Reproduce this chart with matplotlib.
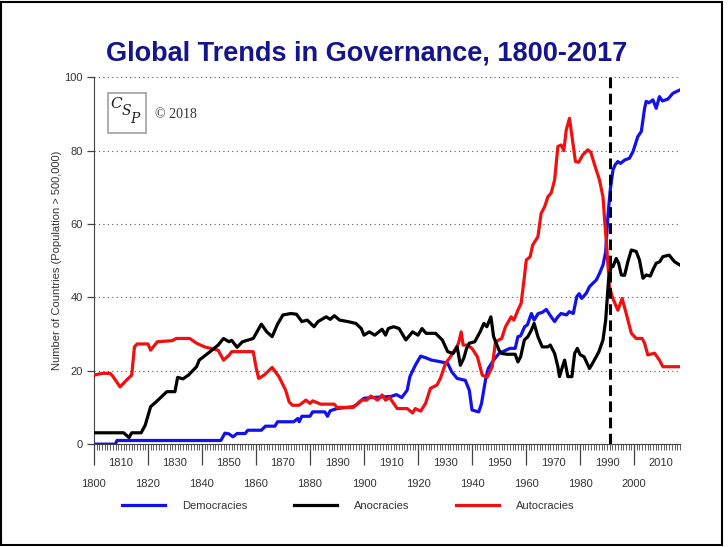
import matplotlib
matplotlib.use('Agg')
import matplotlib.pyplot as plt
from matplotlib.patches import Rectangle
from matplotlib.ticker import MultipleLocator, FuncFormatter

plt.rcParams['font.family'] = ['Liberation Sans', 'DejaVu Sans']

# values (year, number of countries)
dem_years = [1800, 1808, 1808.5, 1847, 1848.5, 1850, 1851.5, 1853, 1856, 1857, 1862, 1863.5,
             1867, 1868, 1874, 1875.5, 1876, 1877, 1880, 1881, 1885.5, 1886.5, 1887.5, 1890,
             1896, 1897.5, 1900, 1903, 1910, 1912, 1914, 1916, 1917, 1919, 1921, 1923, 1925,
             1928, 1931, 1932.5, 1934.5, 1937.5, 1939, 1940, 1942.5, 1943.5, 1945, 1946, 1948,
             1950, 1954, 1956, 1957, 1958, 1959.5, 1960.5, 1962, 1963, 1964.5, 1966, 1967.5,
             1969.3, 1970.6, 1971.8, 1973, 1975, 1976, 1977.5, 1978.8, 1979.7, 1980.6, 1982.3,
             1983.5, 1984.7, 1986, 1987.2, 1988.5, 1989.5, 1990.3, 1991.2, 1992.2, 1993, 1994,
             1995, 1996.5, 1998.3, 1999.6, 2001.4, 2002.7, 2003.9, 2004.5, 2005.5, 2007, 2008.2,
             2009.4, 2010.5, 2012.5, 2014.4, 2015.5, 2017]
dem_vals = [0, 0, 1, 1, 3, 2.8, 2, 2.9, 2.9, 3.8, 3.8, 4.9,
            4.9, 6.1, 6.1, 7, 6.1, 7.6, 7.6, 8.8, 8.8, 7.6, 9.1, 9.7,
            10.2, 10.9, 12.5, 12.7, 13, 13.5, 12.7, 14.7, 18.4, 21.5, 24, 23.5, 22.9,
            22.5, 22, 19.7, 17.9, 17.4, 14.7, 9.3, 8.8, 11, 17.5, 20.6, 22.9,
            24.7, 26.1, 26.1, 29.3, 29.5, 32, 32.5, 35.6, 33.8, 35.6, 35.9, 36.7,
            34.7, 33.4, 34.7, 35.6, 35.2, 36.1, 35.6, 40.2, 41, 39.7, 41.1,
            42.9, 43.8, 44.7, 46.5, 48.8, 52.4, 62, 69.3, 74.7, 76.1, 77,
            76.5, 77.4, 77.9, 79.7, 83.8, 85.2, 91.5, 93.4, 93, 93.8, 91.5,
            94.7, 93.5, 94, 95.6, 96, 96.5]

ano_years = [1800, 1811, 1813, 1814, 1817.5, 1819, 1821, 1823, 1825, 1827, 1830, 1831, 1833,
             1835, 1838, 1839, 1843, 1846, 1848, 1850, 1851, 1853, 1855, 1859, 1862, 1864,
             1866, 1868, 1870, 1873, 1875, 1877, 1879, 1881.5, 1883, 1886, 1887.5, 1889, 1891,
             1894, 1897, 1899, 1900, 1902, 1904, 1906.7, 1908, 1909, 1911, 1913, 1915.5, 1918,
             1920, 1921.5, 1923, 1926.5, 1929, 1931, 1933, 1934.5, 1935.7, 1937, 1938, 1939,
             1941, 1943, 1944.4, 1945.5, 1947, 1948, 1950, 1951, 1953, 1956, 1957, 1958, 1959.4,
             1960.7, 1962, 1963, 1964.4, 1966, 1968, 1969, 1970.6, 1971.8, 1972.4, 1973.5,
             1974.3, 1975.5, 1977, 1978, 1979, 1980, 1981.5, 1983.5, 1985, 1987, 1988.5, 1989.5,
             1990, 1990.6, 1991.5, 1992.2, 1993.4, 1994.3, 1995.3, 1996.5, 1997.7, 1999, 2000.8,
             2002, 2003.3, 2004.5, 2006, 2007, 2008.2, 2009.5, 2010.7, 2013, 2015, 2017]
ano_vals = [3.1, 3.1, 1.8, 3.1, 3.1, 5.2, 10.2, 11.5, 12.9, 14.3, 14.3, 18.2, 17.8,
            18.8, 21.1, 22.9, 25.2, 27, 28.8, 27.9, 28.3, 26.4, 27.9, 28.8, 32.7, 30.6,
            29.3, 32.7, 35.2, 35.6, 35.4, 33.4, 33.8, 32, 33.4, 34.7, 34, 35, 33.8,
            33.4, 32.9, 31.5, 29.7, 30.6, 29.7, 31.3, 29.7, 31.5, 32, 31.5, 28.4, 30.6,
            29.7, 31.5, 30.2, 30.2, 28.4, 25.2, 24.7, 26.5, 21.5, 23.5, 26.1, 27.5,
            27.9, 30.6, 32.9, 32, 34.7, 29.3, 25.6, 24.7, 24.5, 24.5, 22.4, 23.8, 28.4,
            29.3, 31.1, 32.9, 29.3, 26.5, 26.5, 27, 24.7, 21.1, 18.4, 21.1,
            22.9, 18.4, 18.4, 24.7, 26.1, 24.4, 23.8, 20.6, 22.5, 25.2, 28.4, 33.8,
            39, 45, 48.4, 48.4, 50.6, 49.3, 46.1, 46, 49.7, 52.9, 52.5,
            50.2, 45.2, 46.1, 45.8, 47.5, 49.3, 49.7, 51.1, 51.5, 49.7, 48.8]

aut_years = [1800, 1803, 1806, 1807, 1809.7, 1812, 1814, 1815, 1816, 1820, 1821, 1823.5, 1829,
             1830.5, 1835.5, 1838, 1841, 1846, 1848, 1850, 1851, 1859, 1860, 1861, 1863, 1866,
             1868.5, 1871, 1872.3, 1873.5, 1876, 1878.5, 1880, 1881, 1884, 1889, 1890, 1896,
             1897, 1899, 1901, 1902.5, 1904, 1905, 1906.7, 1908, 1909.5, 1912.3, 1916, 1918,
             1919, 1921, 1922.8, 1924.6, 1927, 1928.3, 1930.2, 1932, 1934, 1935, 1936, 1936.7,
             1938.2, 1940, 1942, 1943.8, 1945.6, 1947.5, 1948.7, 1951, 1952.4, 1954.5, 1955.5,
             1957, 1958.2, 1959.4, 1960.1, 1961.5, 1962.5, 1964.4, 1965.6, 1966.9, 1968.1,
             1969.3, 1970.6, 1971.8, 1973, 1974, 1974.9, 1976.1, 1977, 1978.3, 1979.5, 1981,
             1982.9, 1984, 1985.4, 1987.2, 1988.5, 1989.1, 1989.7, 1990.3, 1990.9, 1992, 1994,
             1995.6, 1997.1, 1999, 2000.8, 2003, 2003.9, 2005.1, 2007.6, 2009.4, 2010.7, 2017]
aut_vals = [18.8, 19.3, 19.3, 18.5, 15.6, 17.4, 18.8, 26.5, 27.3, 27.3, 25.6, 27.9, 28.2,
            28.8, 28.8, 27.5, 26.5, 25.6, 22.9, 24.2, 25.2, 25.2, 21.1, 17.9, 18.8, 20.9,
            18.4, 14.7, 11.5, 10.6, 10.6, 12, 11.1, 11.8, 10.9, 10.9, 10, 10,
            10.6, 12, 12, 13.1, 12.5, 12, 13.4, 12, 12.7, 9.7, 9.7, 8.5,
            9.7, 9, 11.1, 15.2, 16.1, 17.9, 22, 23.8, 26.1, 27.5, 30.6, 27,
            27, 26.1, 23.8, 18.8, 18.2, 21.1, 27.9, 28.8, 32, 34.7, 33.8,
            36.5, 38.4, 45.6, 50.2, 51, 54.3, 56.5, 62.9, 64.7, 67.4,
            68.4, 72, 81.1, 81.5, 80, 85.6, 88.8, 84, 77, 76.8, 78.8,
            80.2, 79.5, 76.1, 72, 67.4, 61.1, 55.6, 49.3, 42.9, 40, 36.5,
            39.7, 35.6, 30.2, 28.8, 28.8, 27.5, 24.3, 24.8, 22.9, 21.1, 21.1]

series_names = ['Democracies', 'Anocracies', 'Autocracies']
series_colors = ['#1010f0', '#000000', '#f01010']
cold_war_end = 1991

fig = plt.figure(figsize=(7.28, 5.47), dpi=100)
ax = fig.add_axes([0.129, 0.188, 0.805, 0.671])

ax.plot(dem_years, dem_vals, color=series_colors[0], lw=2.3, label=series_names[0], zorder=3)
ax.plot(ano_years, ano_vals, color=series_colors[1], lw=2.3, label=series_names[1], zorder=4)
ax.plot(aut_years, aut_vals, color=series_colors[2], lw=2.3, label=series_names[2], zorder=3)
ax.axvline(cold_war_end, color='black', lw=2.2, dashes=(3.5, 1.8), zorder=5)

ax.set_xlim(1800, 2017)
ax.set_ylim(0, 100)
ax.set_yticks([0, 20, 40, 60, 80, 100])
ax.yaxis.grid(True, linestyle=(0, (1, 3)), color='#555555', lw=0.8)
ax.set_axisbelow(True)

for side in ['top', 'right']:
    ax.spines[side].set_visible(False)
ax.spines['left'].set_color('#444444')
ax.spines['bottom'].set_color('#444444')

# x axis: long ticks every 20 yrs (lower row labels), yearly comb, odd decades upper row
ax.xaxis.set_major_locator(MultipleLocator(20))
ax.xaxis.set_minor_locator(MultipleLocator(1))
ax.xaxis.set_minor_formatter(FuncFormatter(
    lambda v, p: str(int(round(v))) if int(round(v)) % 20 == 10 else ''))
ax.tick_params(axis='x', which='major', length=15, width=0.9, pad=10,
               labelsize=8, colors='#444444', labelcolor='#333333')
ax.tick_params(axis='x', which='minor', length=4.5, width=0.6, pad=5.5,
               labelsize=8, colors='#444444', labelcolor='#333333')
ax.tick_params(axis='y', length=5, width=0.9, pad=3, labelsize=8,
               colors='#444444', labelcolor='#333333')
ax.set_ylabel('Number of Countries (Population > 500,000)', fontsize=8,
              color='#333333', labelpad=2)

fig.text(0.504, 0.903, 'Global Trends in Governance, 1800-2017', ha='center', va='center',
         fontsize=19.5, fontweight='bold', color='#14148c')

# logo box
fig.patches.append(Rectangle((108 / 728, 1 - 133 / 547), 38 / 728, 40 / 547,
                             transform=fig.transFigure, fill=False,
                             edgecolor='#a0a0a0', lw=1.2))
fig.text(116 / 728, 1 - 104 / 547, 'C', fontsize=11, family='DejaVu Serif',
         style='italic', ha='center', va='center', color='#222222')
fig.text(126 / 728, 1 - 111 / 547, 'S', fontsize=10, family='DejaVu Serif',
         style='italic', ha='center', va='center', color='#222222')
fig.text(135 / 728, 1 - 119 / 547, 'P', fontsize=10, family='DejaVu Serif',
         style='italic', ha='center', va='center', color='#222222')
fig.text(155 / 728, 1 - 114 / 547, '\u00a9 2018', fontsize=10, family='Liberation Serif',
         ha='left', va='center', color='#333333')

fig.legend(loc='center', bbox_to_anchor=(0.478, 1 - 506 / 547), ncol=3, frameon=False,
           fontsize=8, handlelength=3.9, handletextpad=1.5, columnspacing=4.2,
           labelcolor='#333333')

# outer frame
fig.patches.append(Rectangle((1 / 728, 2 / 547), 721 / 728, 543 / 547,
                             transform=fig.transFigure, fill=False,
                             edgecolor='black', lw=1.5))

fig.savefig('out.png', dpi=100)
